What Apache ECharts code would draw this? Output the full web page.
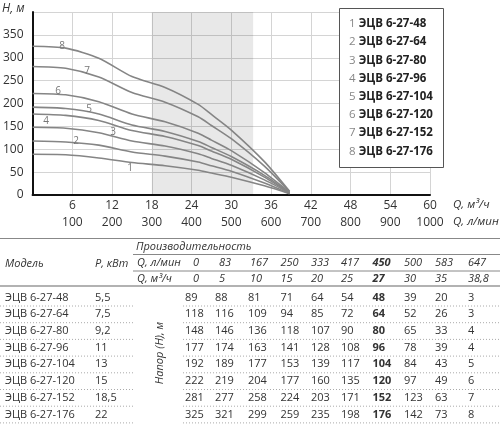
<!DOCTYPE html>
<html><head><meta charset="utf-8">
<script src="https://cdn.jsdelivr.net/npm/echarts@6/dist/echarts.min.js"></script>
<style>html,body{margin:0;padding:0;background:#fff}#c{width:500px;height:424px}</style>
</head><body><div id="c"></div>
<script>
// ---- data ----
const models = ['ЭЦВ 6-27-48','ЭЦВ 6-27-64','ЭЦВ 6-27-80','ЭЦВ 6-27-96','ЭЦВ 6-27-104','ЭЦВ 6-27-120','ЭЦВ 6-27-152','ЭЦВ 6-27-176'];
const powers = ['5,5','7,5','9,2','11','13','15','18,5','22'];
const flowLmin = ['0','83','167','250','333','417','450','500','583','647'];
const flowM3hText = ['0','5','10','15','20','25','27','30','35','38,8'];
const flowM3h = [0,5,10,15,20,25,27,30,35,38.8];
const head1 = [89,88,81,71,64,54,48,39,20,3];
const head2 = [118,116,109,94,85,72,64,52,26,3];
const head3 = [148,146,136,118,107,90,80,65,33,4];
const head4 = [177,174,163,141,128,108,96,78,39,4];
const head5 = [192,189,177,153,139,117,104,84,43,5];
const head6 = [222,219,204,177,160,135,120,97,49,6];
const head7 = [281,277,258,224,203,171,152,123,63,7];
const head8 = [325,321,299,259,235,198,176,142,73,8];
const heads = [head1,head2,head3,head4,head5,head6,head7,head8];
const workRange = [18, 33.3];
const boldCol = 6;

// ---- layout ----
const FONT = "'Open Sans', 'Noto Sans', sans-serif";
const curveLabelPos = [[130,168],[76,141],[113,132],[46,121],[89,109],[58,91],[87,71],[62,46]];
const colX = [185,215,248,280.5,311,341,372.5,404,435,468];
const headX = [193,219,250,280.5,311,341,372.5,404,435,468];
const rowY0 = 297.5, rowH = 16.7;
const txtColor = '#333';

const chart = echarts.init(document.getElementById('c'), null, {renderer:'canvas'});

const series = models.map((m, k) => ({
  name: m, type: 'line', smooth: 0.25, symbol: 'none', silent: true,
  xAxisIndex: 0,
  lineStyle: {color: '#858585', width: 1.6},
  itemStyle: {color: '#858585'},
  data: flowM3h.map((q, i) => [q, heads[k][i]]),
  markArea: k === 0 ? {silent: true, itemStyle: {color: 'rgba(0,0,0,0.09)'},
    data: [[{xAxis: workRange[0]}, {xAxis: workRange[1]}]]} : undefined
}));

const g = [];
function T(x, y, text, o = {}) {
  g.push({type: 'text', x, y, rotation: o.rot || 0, z: 10,
    style: {text, font: `${o.style||'normal'} ${o.weight||'normal'} ${o.size||11}px ${FONT}`,
      fill: o.color || txtColor, align: o.align || 'left', textAlign: o.align || 'left',
      verticalAlign: 'middle', textVerticalAlign: 'middle'}});
}
function L(x1, y1, x2, y2, o = {}) {
  g.push({type: 'line', z: 5, shape: {x1, y1, x2, y2},
    style: {stroke: o.color || '#999', lineWidth: o.w || 1, lineDash: o.dash || null}});
}
// axis names
T(2, 9, 'Н, м', {style:'italic', size:12});
T(453, 205, 'Q, м³/ч', {style:'italic', size:11.5});
T(453, 222, 'Q, л/мин', {style:'italic', size:11.5});
// curve numbers
curveLabelPos.forEach((p, i) => T(p[0], p[1], String(i+1), {size:10, color:'#777', align:'center'}));
// legend box
g.push({type:'rect', z: 5, shape:{x:339.5, y:8.5, width:104, height:159}, style:{fill:'#fff', stroke:'#555', lineWidth:1}});

// table
L(0, 238.5, 500, 238.5, {color:'#888'});
T(136, 247, 'Производительность', {style:'italic'});
L(133, 254.5, 500, 254.5, {color:'#888'});
T(5, 264, 'Модель', {style:'italic'});
T(95, 264, 'P, кВт', {style:'italic'});
T(137, 263, 'Q, л/мин', {style:'italic'});
L(133, 271, 500, 271, {color:'#888'});
T(137, 279, 'Q, м³/ч', {style:'italic'});
L(0, 286, 500, 286, {color:'#666', w:1.2});
flowLmin.forEach((v, j) => T(headX[j], 263, v, {style:'italic', weight: j===boldCol?'bold':'normal'}));
flowM3hText.forEach((v, j) => T(headX[j], 279, v, {style:'italic', weight: j===boldCol?'bold':'normal'}));
models.forEach((m, i) => {
  const y = rowY0 + i*rowH;
  T(5, y, m);
  T(95, y, powers[i]);
  heads[i].forEach((v, j) => T(colX[j], y, String(v), {weight: j===boldCol?'bold':'normal'}));
  L(0, y+8.5, 135, y+8.5, {color:'#aaa', dash:[1,2]});
  L(183, y+8.5, 500, y+8.5, {color:'#aaa', dash:[1,2]});
});
T(160, 353, 'Напор (Н), м', {style:'italic', align:'center', rot: Math.PI/2});

chart.setOption({
  animation: false,
  backgroundColor: '#fff',
  textStyle: {fontFamily: FONT},
  grid: {left: 30, right: 70, top: 12, bottom: 229, containLabel: false},
  xAxis: [
    {type: 'value', min: 0, max: 60, interval: 6, position: 'bottom',
     axisLine: {lineStyle: {color: '#111', width: 2}}, axisTick: {show: false},
     splitLine: {show: true, lineStyle: {color: '#d4d4d4', width: 1}},
     axisLabel: {showMinLabel: false, color: txtColor, fontSize: 12, margin: 5, fontFamily: FONT,
       formatter: v => String(v)}},
    {type: 'value', min: 0, max: 1000, interval: 100, position: 'bottom', offset: 17,
     axisLine: {show: false}, axisTick: {show: false}, splitLine: {show: false},
     axisLabel: {showMinLabel: false, color: txtColor, fontSize: 12, margin: 5, fontFamily: FONT,
       formatter: v => String(v)}}
  ],
  yAxis: {type: 'value', min: 0, max: 400, interval: 50,
    axisLine: {show: true, lineStyle: {color: '#111', width: 2}}, axisTick: {show: false},
    splitLine: {lineStyle: {color: '#d4d4d4', width: 1}},
    axisLabel: {showMaxLabel: false, color: txtColor, fontSize: 12, margin: 9, padding: [0,0,6,0], fontFamily: FONT,
      formatter: v => String(v)}},
  legend: {
    orient: 'vertical', left: 344, top: 17, itemGap: 4.2, itemHeight: 14, itemWidth: 0,
    icon: 'none', selectedMode: false, padding: 0, z: 20,
    data: models,
    formatter: name => `{n|${models.indexOf(name)+1}} {t|${name}}`,
    textStyle: {lineHeight: 14, rich: {
      n: {color: '#888', fontSize: 11.5, lineHeight: 14, fontFamily: FONT},
      t: {color: '#222', fontSize: 11.5, lineHeight: 14, fontWeight: 'bold', fontFamily: FONT}}}
  },
  series,
  graphic: g
});
</script></body></html>
